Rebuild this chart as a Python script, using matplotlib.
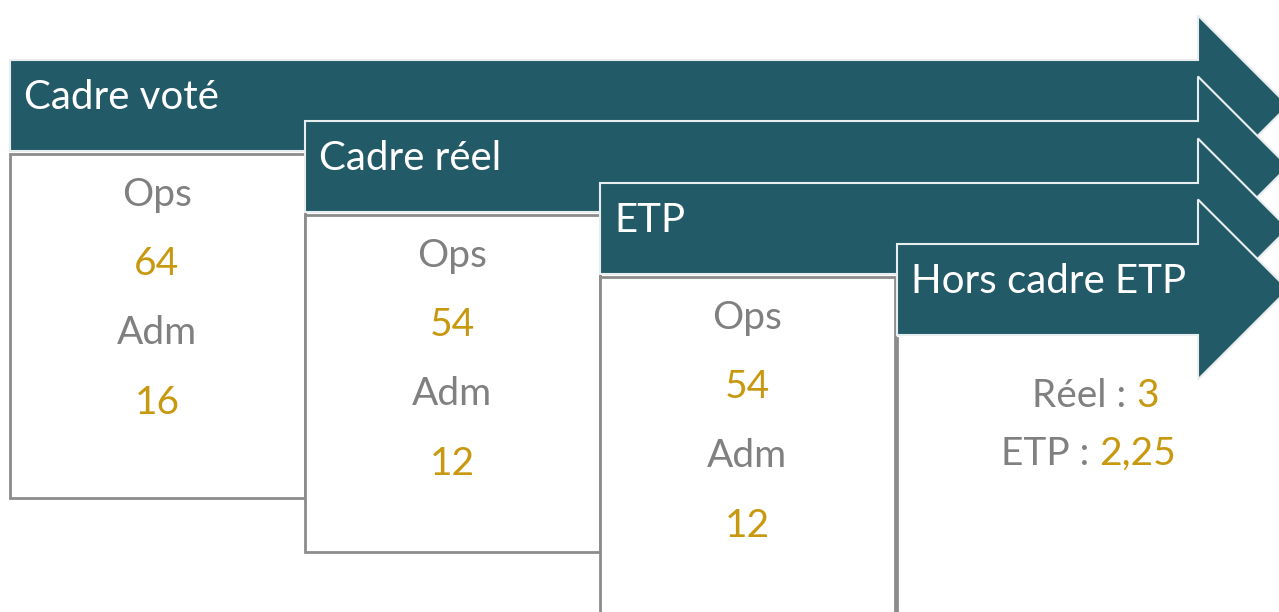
import matplotlib.pyplot as plt
from matplotlib.patches import Polygon, Rectangle

# étapes et valeurs
etapes = ['Cadre voté', 'Cadre réel', 'ETP', 'Hors cadre ETP']
ops = [64, 54, 54]
adm = [16, 12, 12]
hors_cadre_labels = ['Réel : ', 'ETP : ']
hors_cadre_vals = ['3', '2,25']

teal = '#235a68'
gris = '#808080'
or_ = '#c8980f'
police = 'Lato'

fig = plt.figure(figsize=(12.79, 6.12), dpi=100)
ax = fig.add_axes([0, 0, 1, 1])
ax.set_xlim(0, 1279)
ax.set_ylim(612, 0)
ax.axis('off')

x0s = [10, 305, 600, 897]
tops = [60, 121, 183, 244]
h = 91
x_head = 1198
box_bottoms = [498, 552, 640, 640]

# boîtes
for i in range(4):
    y_box = tops[i] + h + 3
    if i < 3:
        ax.add_patch(Rectangle((x0s[i], y_box), 295, box_bottoms[i] - y_box,
                               facecolor='white', edgecolor='#8c8c8c', lw=2, zorder=1 + 2 * i))
    else:
        ax.plot([x0s[i], x0s[i]], [y_box, 640], color='#8c8c8c', lw=2, zorder=1 + 2 * i)

# flèches
for i, label in enumerate(etapes):
    top = tops[i]
    mid = top + h / 2
    pts = [(x0s[i], top), (x_head, top), (x_head, mid - 90), (x_head + 90, mid),
           (x_head, mid + 90), (x_head, top + h), (x0s[i], top + h)]
    ax.add_patch(Polygon(pts, closed=True, facecolor=teal, edgecolor='#e8eef0',
                         lw=1.5, zorder=2 + 2 * i))
    ax.text(x0s[i] + 14, mid - 8, label, color='white', fontsize=29, family=police,
            va='center', ha='left', zorder=3 + 2 * i)

# contenus des boîtes
for i in range(3):
    cx = x0s[i] + 147
    y0 = tops[i] + h + 44
    ax.text(cx, y0, 'Ops', color=gris, fontsize=28, family=police, ha='center', va='center', zorder=10)
    ax.text(cx, y0 + 69, str(ops[i]), color=or_, fontsize=28, family=police, ha='center', va='center', zorder=10)
    ax.text(cx, y0 + 138, 'Adm', color=gris, fontsize=28, family=police, ha='center', va='center', zorder=10)
    ax.text(cx, y0 + 208, str(adm[i]), color=or_, fontsize=28, family=police, ha='center', va='center', zorder=10)

# hors cadre
anchors = [1136, 1099]
for j, (lab, val) in enumerate(zip(hors_cadre_labels, hors_cadre_vals)):
    y = 396 + 58 * j
    ax.text(anchors[j], y, lab, color=gris, fontsize=28, family=police,
            ha='right', va='center', zorder=10)
    ax.text(anchors[j], y, val, color=or_, fontsize=28, family=police,
            ha='left', va='center', zorder=10)

fig.savefig('out.png', dpi=100, facecolor='white')
